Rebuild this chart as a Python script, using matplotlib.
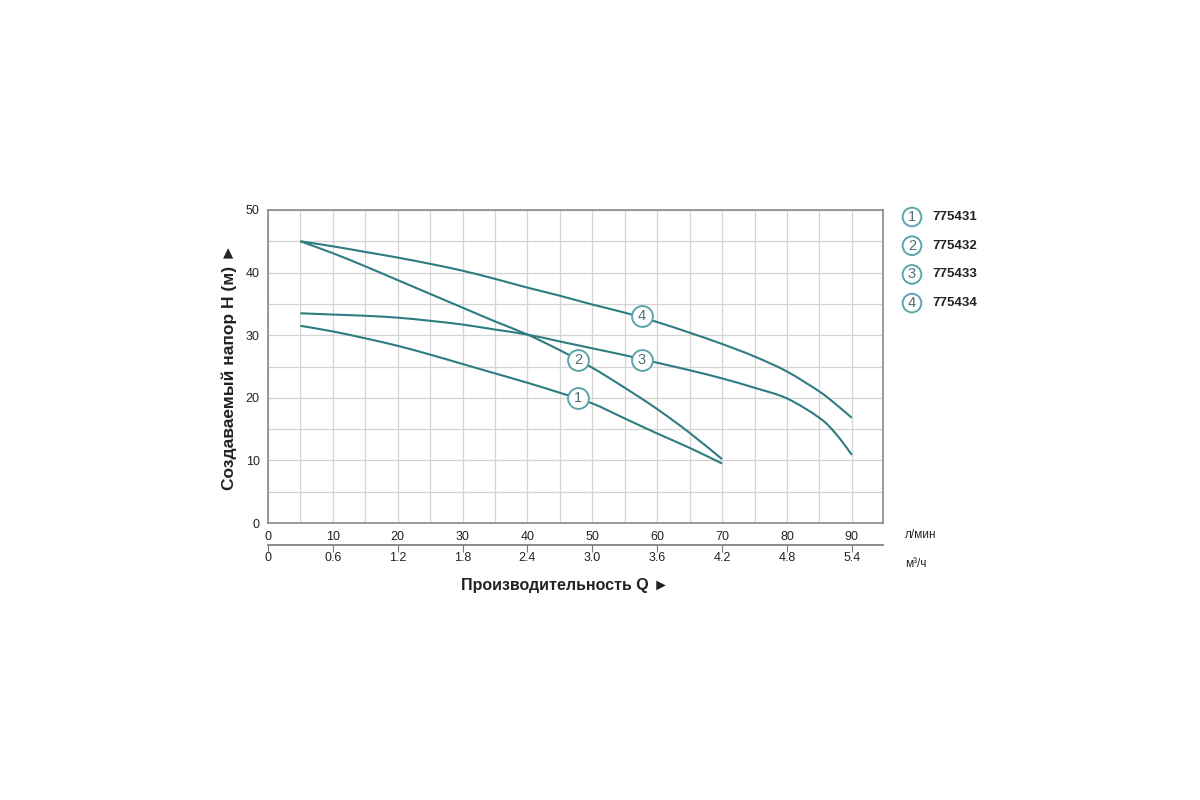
import numpy as np
import matplotlib
matplotlib.use('Agg')
import matplotlib.pyplot as plt
from matplotlib.path import Path
from matplotlib.patches import PathPatch

plt.rcParams['font.family'] = ['Liberation Sans', 'DejaVu Sans']

# расход, л/мин
q1 = [5, 10, 15, 20, 25, 30, 35, 40, 45, 50, 55, 60, 65, 70]
h1 = [31.5, 30.6, 29.5, 28.3, 26.9, 25.4, 23.9, 22.4, 20.8, 19.1, 16.7, 14.3, 12.0, 9.5]

q2 = [5, 10, 15, 20, 25, 30, 35, 40, 45, 50, 55, 60, 65, 70]
h2 = [45.0, 43.1, 41.0, 38.8, 36.6, 34.4, 32.2, 30.1, 27.6, 24.8, 21.6, 18.2, 14.4, 10.2]

q3 = [5, 10, 15, 20, 25, 30, 35, 40, 45, 50, 55, 60, 65, 70, 75, 80, 85, 87.5, 90]
h3 = [33.5, 33.3, 33.1, 32.8, 32.3, 31.7, 30.9, 30.1, 29.0, 27.9, 26.8, 25.6, 24.4, 23.1, 21.6, 19.9, 16.8, 14.3, 10.9]

q4 = [5, 10, 15, 20, 25, 30, 35, 40, 45, 50, 55, 60, 65, 70, 75, 80, 85, 87.5, 90]
h4 = [45.0, 44.2, 43.3, 42.4, 41.4, 40.3, 39.0, 37.6, 36.3, 34.9, 33.6, 32.1, 30.4, 28.6, 26.6, 24.2, 21.0, 19.0, 16.8]

models = ['775431', '775432', '775433', '775434']
# где стоят кружки с номерами на кривых
mark_q = [47.8, 47.8, 57.6, 57.6]
mark_h = [20.0, 26.0, 26.1, 33.0]

x_ticks = [0, 10, 20, 30, 40, 50, 60, 70, 80, 90]
m3_ticks = ['0', '0.6', '1.2', '1.8', '2.4', '3.0', '3.6', '4.2', '4.8', '5.4']

line_c = '#2d7d80'
circ_c = '#5aa6ab'
num_c = '#4d6f72'
grid_c = '#d4d4d4'


def smooth_path(x, y):
    # гладкая кривая через точки (кубические Безье, как Catmull-Rom)
    x = np.asarray(x, float)
    y = np.asarray(y, float)
    verts = [(x[0], y[0])]
    codes = [Path.MOVETO]
    n = len(x)
    for i in range(n - 1):
        x0, y0 = (x[i - 1], y[i - 1]) if i > 0 else (x[i], y[i])
        x3, y3 = (x[i + 2], y[i + 2]) if i + 2 < n else (x[i + 1], y[i + 1])
        c1 = (x[i] + (x[i + 1] - x0) / 6, y[i] + (y[i + 1] - y0) / 6)
        c2 = (x[i + 1] - (x3 - x[i]) / 6, y[i + 1] - (y3 - y[i]) / 6)
        verts += [c1, c2, (x[i + 1], y[i + 1])]
        codes += [Path.CURVE4] * 3
    return Path(verts, codes)


fig = plt.figure(figsize=(12, 8), dpi=100)
ax = fig.add_axes([0.2233, 0.34625, 0.5125, 0.39125])

curves = [(q1, h1), (q2, h2), (q3, h3), (q4, h4)]
for q, h in curves:
    ax.add_patch(PathPatch(smooth_path(q, h), fill=False, ec=line_c, lw=1.5, zorder=3))

for i in range(4):
    ax.plot(mark_q[i], mark_h[i], 'o', ms=15, mfc='white', mec=circ_c, mew=1.4, zorder=4)
    ax.text(mark_q[i], mark_h[i], str(i + 1), ha='center', va='center',
            fontsize=10.5, color=num_c, zorder=5)

ax.set_xlim(0, 94.8)
ax.set_ylim(0, 50)
ax.set_xticks(x_ticks)
ax.set_yticks([0, 10, 20, 30, 40, 50])
ax.set_xticks(np.arange(0, 95, 5), minor=True)
ax.set_yticks(np.arange(0, 51, 5), minor=True)
ax.grid(which='both', color=grid_c, lw=0.9, zorder=0)
ax.tick_params(which='both', length=0, labelsize=9, colors='#222222')
ax.tick_params(axis='x', pad=6)
ax.tick_params(axis='y', pad=6)
for s in ax.spines.values():
    s.set_color('#8a8a8a')
    s.set_linewidth(1.2)

# вторая шкала, м³/ч
sec = ax.secondary_xaxis(-0.0705, functions=(lambda x: x * 0.06, lambda x: x / 0.06))
sec.set_xticks([float(t) for t in m3_ticks], labels=m3_ticks)
sec.tick_params(direction='out', length=5, width=0.8, color='#777777',
                labelsize=9, labelcolor='#222222', pad=0)
sec.spines['bottom'].set_color('#777777')
sec.spines['bottom'].set_linewidth(1.2)

fig.text(0.754, 0.331, 'л/мин', fontsize=8.5, color='#222222', ha='left', va='center')
fig.text(0.754, 0.295, 'м³/ч', fontsize=8.5, color='#222222', ha='left', va='center')

ax.set_ylabel('Создаваемый напор H (м) ►', fontsize=12.5, fontweight='bold',
              color='#222222', labelpad=6)
fig.text(0.471, 0.268, 'Производительность Q ►', fontsize=11.5, fontweight='bold',
         color='#222222', ha='center', va='center')

# легенда справа
for i, m in enumerate(models):
    y = 1 - (217 + i * 28.7) / 800
    fig.text(0.76, y, str(i + 1), ha='center', va='center', fontsize=10.5, color=num_c,
             bbox=dict(boxstyle='circle,pad=0.16', fc='white', ec=circ_c, lw=1.4))
    fig.text(0.777, y, m, ha='left', va='center', fontsize=9.5, fontweight='bold',
             color='#222222')

fig.savefig('out.png', dpi=100, facecolor='white')
